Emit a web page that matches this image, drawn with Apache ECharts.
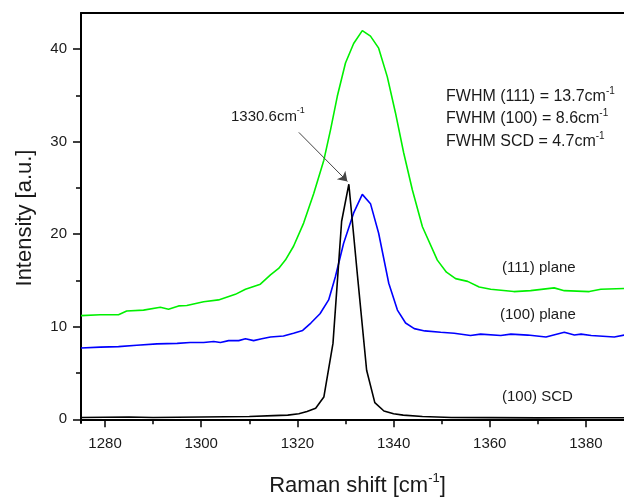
<!DOCTYPE html>
<html>
<head>
<meta charset="utf-8">
<script src="https://cdn.jsdelivr.net/npm/echarts@6/dist/echarts.min.js"></script>
<style>
  html, body { margin: 0; padding: 0; background: #fff; }
  #main { width: 624px; height: 497px; }
</style>
</head>
<body>
<div id="main"></div>
<script>
// (111) plane, green
const shift111 = [1275, 1279, 1282.8, 1284.5, 1288, 1291.5, 1293.2, 1295.3, 1297, 1300.5, 1303.6, 1307.1,
  1309.2, 1312.3, 1314.4, 1316.1, 1317.5, 1319.2, 1321.3, 1323.4, 1325.5, 1326.9, 1328.3, 1330, 1331.7,
  1333.5, 1335.2, 1336.9, 1338.7, 1340.4, 1342.1, 1343.9, 1346, 1349.1, 1351, 1352.9, 1355.4, 1357.8,
  1360.2, 1365, 1368.5, 1373.4, 1375.5, 1380.7, 1383.1, 1389];
const int111 = [11.2, 11.3, 11.3, 11.7, 11.8, 12.1, 11.9, 12.25, 12.3, 12.7, 12.9, 13.5,
  14.05, 14.6, 15.6, 16.3, 17.2, 18.7, 21.2, 24.4, 28.0, 31.3, 34.9, 38.5, 40.6,
  42.0, 41.4, 40.1, 37.0, 33.1, 28.8, 24.8, 20.8, 17.2, 15.9, 15.2, 14.9, 14.3,
  14.05, 13.8, 13.9, 14.2, 13.9, 13.8, 14.05, 14.15];

// (100) plane, blue
const shift100 = [1275, 1279, 1282.8, 1286.6, 1290.8, 1295, 1297.7, 1300.5, 1302.6, 1304, 1305.7, 1307.8,
  1309.2, 1310.9, 1312.6, 1314.4, 1317.1, 1319.2, 1321.1, 1322.8, 1324.7, 1326.5, 1327.9, 1329.6, 1331.7,
  1333.5, 1335.2, 1336.9, 1339, 1340.8, 1342.5, 1344.3, 1346.5, 1349.8, 1352.6, 1356, 1358.1, 1362.3,
  1364.4, 1367.9, 1371.7, 1375.5, 1377.6, 1379, 1381.1, 1385.9, 1389];
const int100 = [7.7, 7.8, 7.85, 8.0, 8.15, 8.2, 8.3, 8.3, 8.4, 8.3, 8.5, 8.5,
  8.7, 8.5, 8.7, 8.9, 9.0, 9.3, 9.6, 10.4, 11.4, 12.9, 15.4, 19.0, 22.3,
  24.3, 23.3, 20.1, 14.7, 11.8, 10.4, 9.8, 9.55, 9.4, 9.3, 9.05, 9.2, 9.05,
  9.2, 9.1, 8.9, 9.4, 9.1, 9.2, 9.05, 8.9, 9.2];

// (100) SCD, black
const shiftScd = [1275, 1285, 1290, 1300, 1310, 1315, 1318, 1320.3, 1322, 1323.8, 1325.5, 1327.4,
  1329.2, 1330.7, 1332.5, 1334.4, 1336.1, 1338, 1340, 1342, 1346, 1352, 1360, 1370, 1380, 1389];
const intScd = [0.2, 0.25, 0.2, 0.25, 0.3, 0.4, 0.45, 0.6, 0.85, 1.2, 2.4, 8.2,
  21.4, 25.4, 15.5, 5.3, 1.8, 0.9, 0.6, 0.45, 0.3, 0.2, 0.18, 0.15, 0.17, 0.17];

const xTicks = [1280, 1300, 1320, 1340, 1360, 1380];
const yTicks = [0, 10, 20, 30, 40];

// arrow of the peak note, in data units
const arrowFrom = [1320.3, 31.0];
const arrowTo = [1330.4, 25.7];

const pairs = (xs, ys) => xs.map((x, i) => [x, ys[i]]);

const font = 'Arial, "Liberation Sans", sans-serif';
const txt = '#1a1a1a';
const sup = (size) => ({ fontSize: size, fontFamily: font, color: txt, verticalAlign: 'top', lineHeight: size, padding: [-1, 0, 0, 0] });

const chart = echarts.init(document.getElementById('main'), null, { renderer: 'canvas' });

function note(x, y, main, size) {
  return {
    type: 'text', x: x, y: y, silent: true,
    style: {
      text: main, fill: txt, verticalAlign: 'middle',
      rich: {
        a: { fontSize: size, fontFamily: font, color: txt, lineHeight: size + 4 },
        s: sup(Math.round(size * 0.62))
      }
    }
  };
}

const axisLine = { show: true, lineStyle: { color: '#000', width: 2 } };

chart.setOption({
  animation: false,
  backgroundColor: '#fff',
  grid: { left: 81, top: 13, bottom: 74, right: -10, outerBoundsMode: 'none' },
  xAxis: [{
    type: 'value', min: 1275, max: 1390,
    axisLine: axisLine,
    axisTick: { show: true, length: 8, lineStyle: { color: '#000', width: 1.5 }, customValues: xTicks },
    minorTick: { show: true, splitNumber: 2, length: 5, lineStyle: { color: '#000', width: 1.5 } },
    axisLabel: { customValues: xTicks, formatter: (v) => String(v), margin: 13, fontSize: 15, fontFamily: font, color: txt },
    splitLine: { show: false },
    name: '{a|Raman shift [cm}{s|-1}{a|]}',
    nameLocation: 'middle', nameGap: 50,
    nameTextStyle: {
      rich: {
        a: { fontSize: 22, fontFamily: font, color: txt, lineHeight: 26 },
        s: sup(13)
      }
    }
  }, {
    type: 'value', position: 'top', min: 1275, max: 1390,
    axisLine: axisLine, axisTick: { show: false }, axisLabel: { show: false }, splitLine: { show: false }
  }],
  yAxis: {
    type: 'value', min: -0.4, max: 43.9,
    axisLine: axisLine,
    axisTick: { show: true, length: 8, lineStyle: { color: '#000', width: 1.5 }, customValues: yTicks },
    minorTick: { show: true, splitNumber: 2, length: 5, lineStyle: { color: '#000', width: 1.5 } },
    axisLabel: { customValues: yTicks, margin: 14, fontSize: 15, fontFamily: font, color: txt },
    splitLine: { show: false },
    name: 'Intensity [a.u.]',
    nameLocation: 'middle', nameGap: 45,
    nameTextStyle: { fontSize: 22, fontFamily: font, color: txt }
  },
  series: [{
    type: 'line', data: pairs(shift111, int111), showSymbol: false,
    lineStyle: { color: '#00f000', width: 1.6 }, z: 2
  }, {
    type: 'line', data: pairs(shift100, int100), showSymbol: false,
    lineStyle: { color: '#0000ff', width: 1.6 }, z: 3
  }, {
    type: 'line', data: pairs(shiftScd, intScd), showSymbol: false,
    lineStyle: { color: '#000', width: 1.6 }, z: 4,
    markLine: {
      silent: true, symbol: ['none', 'arrow'], symbolSize: 9,
      label: { show: false },
      lineStyle: { color: '#444', width: 1, type: 'solid' },
      data: [[{ coord: arrowFrom }, { coord: arrowTo }]]
    }
  }],
  graphic: [
    note(231, 117, '{a|1330.6cm}{s|-1}', 15),
    note(446, 97, '{a|FWHM (111) = 13.7cm}{s|-1}', 16),
    note(446, 119, '{a|FWHM (100) = 8.6cm}{s|-1}', 16),
    note(446, 142, '{a|FWHM SCD = 4.7cm}{s|-1}', 16),
    note(502, 268, '{a|(111) plane}', 15),
    note(500, 315, '{a|(100) plane}', 15),
    note(502, 397, '{a|(100) SCD}', 15)
  ]
});
</script>
</body>
</html>
